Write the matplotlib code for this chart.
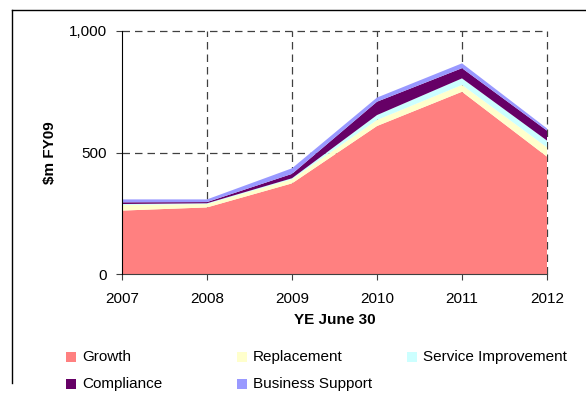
import numpy as np
import matplotlib
matplotlib.use('Agg')
import matplotlib.pyplot as plt
from matplotlib.lines import Line2D
from matplotlib.patches import Rectangle
from matplotlib.ticker import FuncFormatter

plt.rcParams['font.family'] = ['Liberation Sans', 'DejaVu Sans']

years = [2007, 2008, 2009, 2010, 2011, 2012]
growth = [261, 274, 373, 609, 750, 483]
replacement = [23, 14, 17, 25, 28, 38]
service_improvement = [4, 3, 4, 20, 27, 28]
compliance = [7, 5, 18, 55, 42, 41]
business_support = [12, 11, 23, 17, 20, 9]

names = ['Growth', 'Replacement', 'Service Improvement', 'Compliance', 'Business Support']
colors = ['#FF8080', '#FFFFCC', '#CCFFFF', '#660066', '#9999FF']

W, H = 586, 394
fig = plt.figure(figsize=(W / 100, H / 100), dpi=100)
ax = fig.add_axes([122/W, 1 - 274/H, 425/W, 243/H])

ax.stackplot(years, growth, replacement, service_improvement, compliance,
             business_support, colors=colors, linewidth=0, zorder=1)

ax.set_xlim(2007, 2012)
ax.set_ylim(0, 1000)
ax.set_xticks(years)
ax.set_yticks([0, 500, 1000])
ax.yaxis.set_major_formatter(FuncFormatter(lambda v, p: f'{int(v):,}'))
ax.tick_params(labelsize=11, length=4, width=0.8, color='#404040')
ax.tick_params(axis='y', pad=7)
ax.tick_params(axis='x', pad=9)

# dashed grid sits behind the fills
for y in [500, 1000]:
    ax.axhline(y, color='#404040', lw=0.9, ls=(0, (6, 4)), zorder=0, clip_on=False)
for x in years[1:]:
    ax.axvline(x, color='#404040', lw=0.9, ls=(0, (6, 4)), zorder=0, clip_on=False)

for s in ['top', 'right']:
    ax.spines[s].set_visible(False)
ax.spines['left'].set_color('black')
ax.spines['bottom'].set_color('#404040')
ax.spines['left'].set_zorder(3)

ax.set_ylabel('\\$m FY09', fontsize=11, fontweight='bold', labelpad=8)
ax.set_xlabel('YE June 30', fontsize=11, fontweight='bold', labelpad=5)

# legend laid out in fixed-width columns, row by row
for i, (name, c) in enumerate(zip(names, colors)):
    col, row = i % 3, i // 3
    x0 = 66 + 170.5 * col
    yc = 357 + 27 * row
    fig.add_artist(Rectangle((x0 / W, 1 - (yc + 5) / H), 10 / W, 10 / H,
                             transform=fig.transFigure, facecolor=c,
                             edgecolor='none'))
    fig.text((x0 + 16) / W, 1 - yc / H, name, fontsize=11, va='center', ha='left')

# chart frame
fig.add_artist(Line2D([12/W, 12/W], [1 - 10/H, 1 - 383/H],
                      transform=fig.transFigure, color='black', lw=1))
fig.add_artist(Line2D([12/W, 1], [1 - 10/H, 1 - 10/H],
                      transform=fig.transFigure, color='black', lw=1))

fig.savefig('out.png', dpi=100)
